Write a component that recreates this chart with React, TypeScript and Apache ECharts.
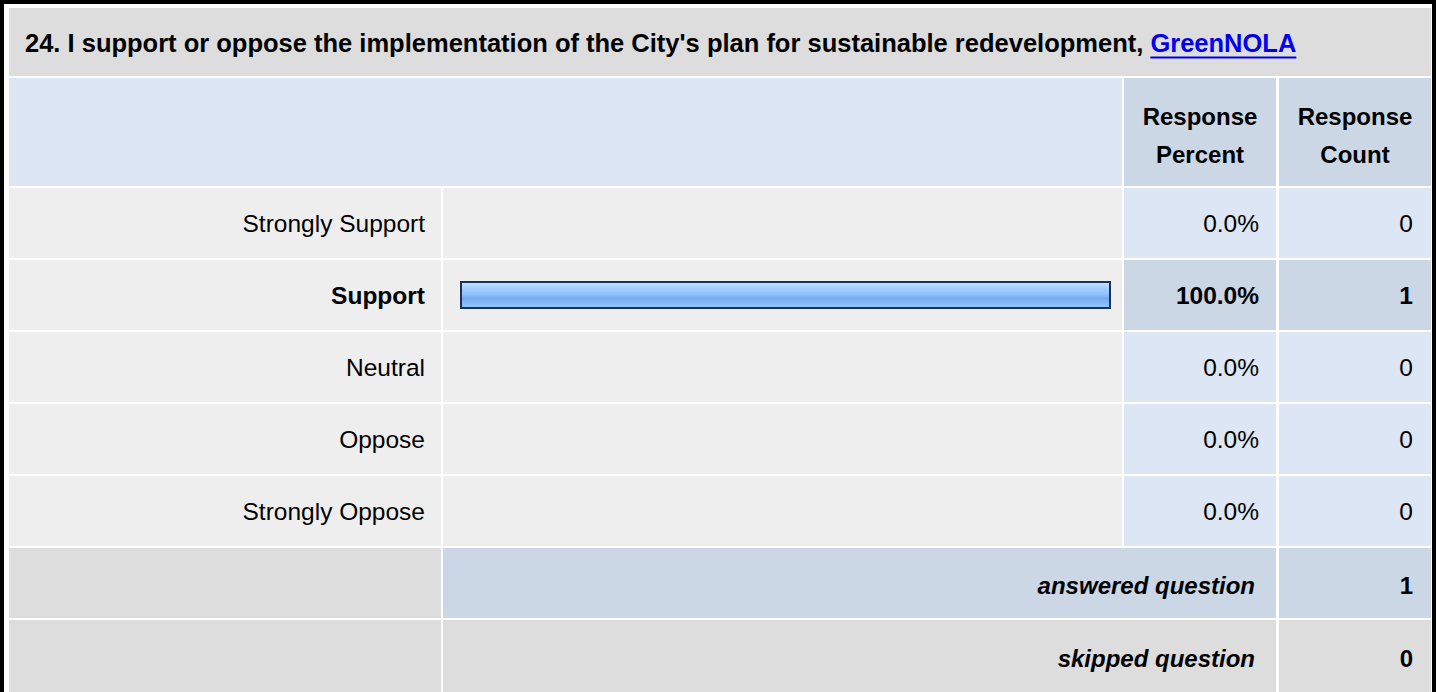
import React, { useEffect, useRef } from "react";
import * as echarts from "echarts";

// ---------- data ----------
const questionTitle =
  "24. I support or oppose the implementation of the City's plan for sustainable redevelopment, ";
const linkText = "GreenNOLA";
const categories = ["Strongly Support", "Support", "Neutral", "Oppose", "Strongly Oppose"];
const counts = [0, 1, 0, 0, 0];
const skippedCount = 0;
const headerPercent = ["Response", "Percent"];
const headerCount = ["Response", "Count"];
const answeredLabel = "answered question";
const skippedLabel = "skipped question";

const answeredCount = counts.reduce((a, b) => a + b, 0);
const percents = counts.map((c) => (answeredCount ? (c / answeredCount) * 100 : 0));
const maxCount = Math.max(...counts);
const isTop = counts.map((c) => c === maxCount && c > 0);

// ---------- layout / style ----------
const FONT = '"Liberation Sans", Arial, Helvetica, sans-serif';
const FS = 24;
const FS_LABEL = 24.5;
const colL = [9, 443, 1124, 1279];
const colR = [441, 1122, 1276, 1431];
const ROW0 = 188;
const ROWH = 70;
const ROWSTEP = 72;
const C_GRAY = "#DDDDDD";
const C_LIGHT = "#EEEEEE";
const C_BLUE = "#DCE6F4";
const C_BLUE2 = "#CBD7E5";

function measure(text: string, font: string): number {
  const ctx = document.createElement("canvas").getContext("2d");
  if (!ctx) return text.length * 12;
  ctx.font = font;
  return ctx.measureText(text).width;
}

function rect(x: number, y: number, w: number, h: number, fill: string) {
  return { type: "rect", silent: true, z: 1, shape: { x, y, width: w, height: h }, style: { fill } };
}

function text(
  x: number,
  y: number,
  t: string,
  opts: { align?: string; weight?: string; italic?: boolean; fill?: string; size?: number } = {}
) {
  return {
    type: "text",
    silent: true,
    z: 20,
    x,
    y,
    style: {
      text: t,
      fill: opts.fill || "#000",
      fontSize: opts.size || FS,
      fontFamily: FONT,
      fontWeight: opts.weight || "normal",
      fontStyle: opts.italic ? "italic" : "normal",
      align: opts.align || "left",
      verticalAlign: "middle",
    },
  };
}

export default function App() {
  const ref = useRef<HTMLDivElement>(null);

  useEffect(() => {
    if (!ref.current) return;
    const chart = echarts.init(ref.current, null, { renderer: "svg" });

    const titleSize = 25.5;
    const titleW = measure(questionTitle, `bold ${titleSize}px ${FONT}`);
    const linkW = measure(linkText, `bold ${titleSize}px ${FONT}`);
    const titleX = 25;
    const titleY = 43;

    const graphics: any[] = [];
    // outer frame
    graphics.push({
      type: "rect",
      silent: true,
      z: 30,
      shape: { x: 2, y: 2, width: 1432, height: 760 },
      style: { fill: "none", stroke: "#000", lineWidth: 4 },
    });
    // title row
    graphics.push(rect(colL[0], 8, colR[3] - colL[0], 68, C_GRAY));
    // header row
    graphics.push(rect(colL[0], 78, colR[1] - colL[0], 108, C_BLUE));
    graphics.push(rect(colL[2], 78, colR[2] - colL[2], 108, C_BLUE2));
    graphics.push(rect(colL[3], 78, colR[3] - colL[3], 108, C_BLUE2));
    // data rows
    categories.forEach((_, i) => {
      const y = ROW0 + ROWSTEP * i;
      graphics.push(rect(colL[0], y, colR[0] - colL[0], ROWH, C_LIGHT));
      graphics.push(rect(colL[1], y, colR[1] - colL[1], ROWH, C_LIGHT));
      graphics.push(rect(colL[2], y, colR[2] - colL[2], ROWH, isTop[i] ? C_BLUE2 : C_BLUE));
      graphics.push(rect(colL[3], y, colR[3] - colL[3], ROWH, isTop[i] ? C_BLUE2 : C_BLUE));
    });
    const yAns = ROW0 + ROWSTEP * categories.length;
    const ySkip = yAns + ROWSTEP;
    graphics.push(rect(colL[0], yAns, colR[0] - colL[0], ROWH, C_GRAY));
    graphics.push(rect(colL[1], yAns, colR[2] - colL[1], ROWH, C_BLUE2));
    graphics.push(rect(colL[3], yAns, colR[3] - colL[3], ROWH, C_BLUE2));
    graphics.push(rect(colL[0], ySkip, colR[0] - colL[0], 80, C_GRAY));
    graphics.push(rect(colL[1], ySkip, colR[2] - colL[1], 80, C_GRAY));
    graphics.push(rect(colL[3], ySkip, colR[3] - colL[3], 80, C_GRAY));

    // title texts
    graphics.push(text(titleX, titleY, questionTitle, { weight: "bold", size: titleSize }));
    graphics.push(
      text(titleX + titleW, titleY, linkText, { weight: "bold", size: titleSize, fill: "#0000EE" })
    );
    graphics.push({
      type: "line",
      silent: true,
      z: 20,
      shape: { x1: titleX + titleW, y1: 57.5, x2: titleX + titleW + linkW, y2: 57.5 },
      style: { stroke: "#0000EE", lineWidth: 2 },
    });
    // headers
    const pcX = (colL[2] + colR[2]) / 2;
    const ccX = (colL[3] + colR[3]) / 2;
    graphics.push(text(pcX, 116, headerPercent[0], { align: "center", weight: "bold" }));
    graphics.push(text(pcX, 154, headerPercent[1], { align: "center", weight: "bold" }));
    graphics.push(text(ccX, 116, headerCount[0], { align: "center", weight: "bold" }));
    graphics.push(text(ccX, 154, headerCount[1], { align: "center", weight: "bold" }));
    // footer
    graphics.push(
      text(1255, yAns + 37, answeredLabel, { align: "right", weight: "bold", italic: true })
    );
    graphics.push(text(1413, yAns + 37, String(answeredCount), { align: "right", weight: "bold" }));
    graphics.push(
      text(1255, ySkip + 38, skippedLabel, { align: "right", weight: "bold", italic: true })
    );
    graphics.push(text(1413, ySkip + 38, String(skippedCount), { align: "right", weight: "bold" }));

    const rich = {
      n: { fontFamily: FONT, fontSize: FS_LABEL, color: "#000" },
      b: { fontFamily: FONT, fontSize: FS_LABEL, color: "#000", fontWeight: "bold" },
    };
    const wrap = (s: string, i: number) => (isTop[i] ? `{b|${s}}` : `{n|${s}}`);

    const gridLeft = 460;
    const gridRight = 1111;
    const hiddenCat = {
      type: "category",
      data: categories,
      inverse: true,
      z: 10,
      axisLine: { show: false },
      axisTick: { show: false },
      splitLine: { show: false },
    };

    const bar = new echarts.graphic.LinearGradient(0, 0, 0, 1, [
      { offset: 0, color: "#CCE5FF" },
      { offset: 0.12, color: "#B4D8FF" },
      { offset: 0.3, color: "#9CCBFF" },
      { offset: 0.5, color: "#8CBEF8" },
      { offset: 0.62, color: "#74AAEC" },
      { offset: 0.75, color: "#80B6F4" },
      { offset: 1, color: "#92C6FF" },
    ]);

    chart.setOption({
      animation: false,
      backgroundColor: "#FFFFFF",
      graphic: { elements: graphics },
      grid: {
        left: gridLeft,
        top: 187,
        width: gridRight - gridLeft,
        height: ROWSTEP * categories.length,
        containLabel: false,
      },
      xAxis: {
        type: "value",
        min: 0,
        max: 100,
        show: false,
      },
      yAxis: [
        {
          ...hiddenCat,
          position: "left",
          axisLabel: {
            margin: gridLeft - 425,
            formatter: (v: string, i: number) => wrap(v, i),
            rich,
          },
        },
        {
          ...hiddenCat,
          position: "right",
          axisLabel: {
            margin: 1259 - gridRight,
            align: "right",
            formatter: (_v: string, i: number) => wrap(percents[i].toFixed(1) + "%", i),
            rich,
          },
        },
        {
          ...hiddenCat,
          position: "right",
          axisLabel: {
            margin: 1413 - gridRight,
            align: "right",
            formatter: (_v: string, i: number) => wrap(String(counts[i]), i),
            rich,
          },
        },
      ],
      series: [
        {
          type: "bar",
          z: 10,
          yAxisIndex: 0,
          barWidth: 28,
          data: percents.map((p) => (p > 0 ? p : "-")),
          itemStyle: { color: bar, borderColor: "#1B3258", borderWidth: 2 },
          silent: true,
        },
      ],
    });

    return () => chart.dispose();
  }, []);

  return (
    <div
      ref={ref}
      style={{ position: "absolute", left: 0, top: 0, width: 1437, height: 692, background: "#fff" }}
    />
  );
}
